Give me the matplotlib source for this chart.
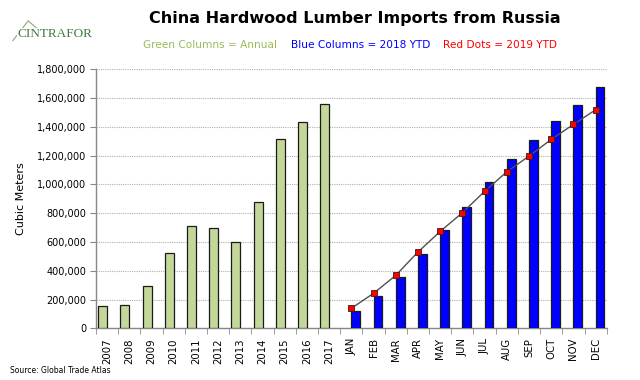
import numpy as np
import matplotlib
matplotlib.use("Agg")
import matplotlib.pyplot as plt
from matplotlib.lines import Line2D
from matplotlib.ticker import FuncFormatter, FixedLocator

years = ["2007", "2008", "2009", "2010", "2011", "2012", "2013", "2014", "2015", "2016", "2017"]
months = ["JAN", "FEB", "MAR", "APR", "MAY", "JUN", "JUL", "AUG", "SEP", "OCT", "NOV", "DEC"]
categories = years + months

annual = [157000, 164000, 294000, 525000, 712000, 694000, 597000, 879000, 1316000, 1434000, 1555000]
ytd_2018 = [120000, 224000, 356000, 514000, 685000, 844000, 1016000, 1173000, 1309000, 1437000, 1552000, 1677000]
ytd_2019 = [139000, 243000, 368000, 530000, 673000, 803000, 951000, 1087000, 1196000, 1312000, 1416000, 1518000]

yticks = [0, 200000, 400000, 600000, 800000, 1000000, 1200000, 1400000, 1600000, 1800000]

fig = plt.figure(figsize=(6.4, 3.8), dpi=100)
ax = fig.add_axes([0.150, 0.136, 0.798, 0.682])

x = np.arange(len(categories))
nY = len(years)
xy = x[:nY]
xm = x[nY:]
w = 0.4

ax.bar(xy - 0.2, annual, width=w, color="#c4d79b", edgecolor="#1a1a1a", linewidth=0.9, zorder=3)
ax.bar(xm + 0.2, ytd_2018, width=w, color="#0000ff", edgecolor="#1a1a1a", linewidth=0.9, zorder=3)
ax.plot(xm, ytd_2019, color="#505050", linewidth=1.0, marker="s", markersize=4.5,
        markerfacecolor="#ff0000", markeredgecolor="#3a1a1a", markeredgewidth=0.6, zorder=4)

ax.set_xlim(-0.5, len(categories) - 0.5)
ax.set_ylim(0, 1800000)
ax.set_yticks(yticks)
ax.yaxis.set_major_formatter(FuncFormatter(lambda v, p: f"{int(v):,}"))
ax.grid(axis="y", color="#b0b0b0", linestyle=(0, (1, 1)), linewidth=0.8, zorder=0)

ax.set_xticks(x)
ax.set_xticklabels(categories, rotation=90, fontsize=7.3)
ax.xaxis.set_minor_locator(FixedLocator(np.arange(-0.5, len(categories), 1.0)))
ax.tick_params(axis="x", which="major", length=0, pad=7)
ax.tick_params(axis="x", which="minor", length=4, color="#888888", direction="out")
ax.tick_params(axis="y", length=4, color="#888888", labelsize=7, pad=3)

for s in ["top", "right"]:
    ax.spines[s].set_visible(False)
for s in ["left", "bottom"]:
    ax.spines[s].set_color("#888888")
    ax.spines[s].set_linewidth(1.0)

ax.set_ylabel("Cubic Meters", fontsize=8, labelpad=8)

fig.text(0.555, 0.952, "China Hardwood Lumber Imports from Russia", ha="center", va="center",
         fontsize=11.5, fontweight="bold", color="black")
fig.text(0.2234, 0.882, "Green Columns = Annual", ha="left", va="center", fontsize=7.6, color="#9bbb59")
fig.text(0.4547, 0.882, "Blue Columns = 2018 YTD", ha="left", va="center", fontsize=7.6, color="#0000ff")
fig.text(0.692, 0.882, "Red Dots = 2019 YTD", ha="left", va="center", fontsize=7.6, color="#ff0000")

# logo
fig.add_artist(Line2D([0.020, 0.044, 0.072], [0.893, 0.945, 0.905], transform=fig.transFigure,
                      color="#8aa878", linewidth=0.8))
fig.text(0.027, 0.910, "CINTRAFOR", ha="left", va="center", fontsize=9.5, family="Liberation Serif",
         color="#3f7a3f", bbox=dict(facecolor="white", edgecolor="none", pad=0.3))

fig.text(0.016, 0.026, "Source: Global Trade Atlas", ha="left", va="center", fontsize=5.5, color="black")

fig.savefig("out.png", dpi=100)
